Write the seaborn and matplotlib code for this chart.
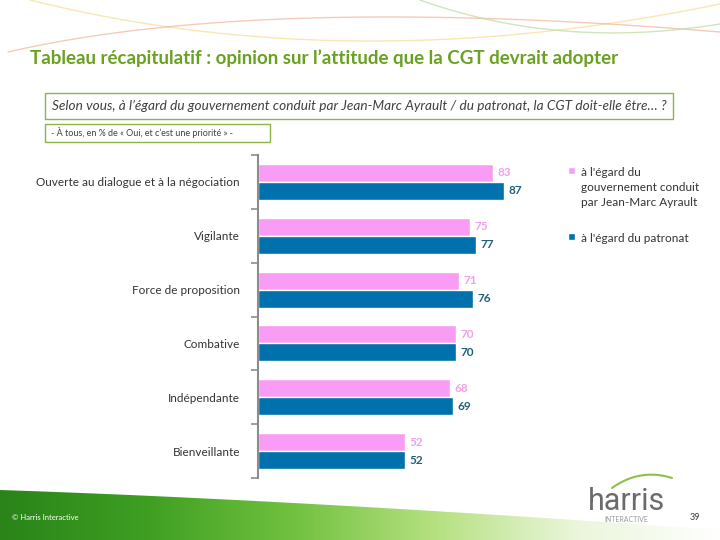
import numpy as np
import pandas as pd
import matplotlib
matplotlib.use("Agg")
import matplotlib.pyplot as plt
from matplotlib.patches import Rectangle, Polygon, Patch
import seaborn as sns

categories = [
    "Ouverte au dialogue et à la négociation",
    "Vigilante",
    "Force de proposition",
    "Combative",
    "Indépendante",
    "Bienveillante",
]
series_names = [
    "à l'égard du\ngouvernement conduit\npar Jean-Marc Ayrault",
    "à l'égard du patronat",
]
gouvernement = [83, 75, 71, 70, 68, 52]
patronat = [87, 77, 76, 70, 69, 52]

PINK = "#F99CF5"
BLUE = "#0071AC"
GREEN = "#6AA121"

df = pd.DataFrame({
    "categorie": categories * 2,
    "serie": [series_names[0]] * 6 + [series_names[1]] * 6,
    "valeur": gouvernement + patronat,
})

sns.set_theme(style="white")
plt.rcParams["font.family"] = ["Lato", "DejaVu Sans"]

fig = plt.figure(figsize=(7.2, 5.4), dpi=100)

# decoration layer in pixel coordinates
bg = fig.add_axes([0, 0, 1, 1], zorder=0)
bg.set_xlim(0, 720)
bg.set_ylim(540, 0)
bg.axis("off")


def quad(p0, p1, p2, n=80):
    t = np.linspace(0, 1, n)[:, None]
    return (1 - t) ** 2 * np.array(p0) + 2 * (1 - t) * t * np.array(p1) + t ** 2 * np.array(p2)


for p0, p1, p2, c in [((30, 0), (350, 80), (720, 4), "#F7DC94"),
                      ((8, 52), (260, -6), (720, 32), "#F2B49A"),
                      ((420, 0), (560, 50), (720, 24), "#BCDAA2")]:
    pts = quad(p0, p1, p2)
    bg.plot(pts[:, 0], pts[:, 1], color=c, lw=1, alpha=0.7)

# green swoosh at the bottom
top = quad((0, 490), (300, 500), (720, 530))
swoosh = Polygon(np.vstack([top, [[720, 540], [0, 540]]]), closed=True,
                 facecolor="none", edgecolor="none")
bg.add_patch(swoosh)
grad = np.linspace(0, 1, 256)[None, :]
cmap = matplotlib.colors.LinearSegmentedColormap.from_list(
    "sw", ["#2A8419", "#3E9E22", "#6FC03E", "#B4E07E", "#EAF6DA", "#FFFFFF"])
im = bg.imshow(grad, extent=(0, 720, 540, 488), cmap=cmap, aspect="auto", zorder=0)
im.set_clip_path(swoosh)
bg.set_xlim(0, 720)
bg.set_ylim(540, 0)

# title and boxes
bg.text(30, 58, "Tableau récapitulatif : opinion sur l’attitude que la CGT devrait adopter",
        color=GREEN, fontsize=13.5, fontweight="bold", va="center", ha="left")
bg.add_patch(Rectangle((45, 93), 628, 26, fill=False, edgecolor="#8DB34A", lw=1))
bg.text(52, 106, "Selon vous, à l’égard du gouvernement conduit par Jean-Marc Ayrault / du patronat, "
        "la CGT doit-elle être… ?", style="italic", color="#404040", fontsize=9.8,
        va="center", ha="left")
bg.add_patch(Rectangle((45, 124), 225, 18, fill=False, edgecolor="#8DB34A", lw=1))
bg.text(51, 133, "- À tous, en % de « Oui, et c’est une priorité » -", color="#404040",
        fontsize=6.5, va="center", ha="left")

# footer
bg.text(12, 518, "© Harris Interactive", color="white", fontsize=5.5, va="center")
bg.text(690, 518, "39", color="#404040", fontsize=6.5, va="center")
bg.text(626, 501, "harris", color="#6B6B6B", fontsize=22, va="center", ha="center",
        family=["Roboto", "DejaVu Sans"])
bg.text(626, 519, "INTERACTIVE", color="#9A9A9A", fontsize=5, va="center", ha="center")
arc = quad((612, 488), (640, 468), (672, 478))
bg.plot(arc[:, 0], arc[:, 1], color="#8CC04A", lw=1.5)

# chart
ax = fig.add_axes([258 / 720, 1 - 478 / 540, 283 / 720, 323 / 540], zorder=1)
ax.patch.set_alpha(0)
sns.barplot(data=df, y="categorie", x="valeur", hue="serie", orient="h",
            palette=[PINK, BLUE], width=0.67, saturation=1, ax=ax, legend=False)
ax.set_xlim(0, 100)
ax.set_ylim(5.5, -0.5)
ax.set_xlabel("")
ax.set_ylabel("")
ax.set_xticks([])
for s in ["top", "right", "bottom"]:
    ax.spines[s].set_visible(False)
ax.spines["left"].set_color("#8C8C8C")
ax.spines["left"].set_linewidth(1.5)
ax.tick_params(axis="y", which="major", length=0, pad=13, labelsize=8.5, labelcolor="#333333")
ax.set_yticks(np.arange(-0.5, 6, 1), minor=True)
ax.tick_params(axis="y", which="minor", length=5, width=1.2, color="#8C8C8C", left=True)

label_colors = ["#F0A0E8", "#1F5F7A"]
for cont, col in zip(ax.containers, label_colors):
    ax.bar_label(cont, padding=3, color=col, fontsize=8.5, fontweight="bold")

handles = [Patch(facecolor=PINK), Patch(facecolor=BLUE)]
leg = ax.legend(handles, series_names, frameon=False, loc="upper left",
                bbox_to_anchor=(557 / 720, 1 - 156 / 540), bbox_transform=fig.transFigure,
                handlelength=0.6, handleheight=0.6, handletextpad=0.5, labelspacing=2.1,
                fontsize=8.5, labelcolor="#333333")
for t in leg.get_texts():
    t.set_linespacing(1.45)
# put the square next to the first line of the multi-line entry
for column in leg._legend_handle_box.get_children():
    for row in column.get_children():
        row.align = "top"

fig.savefig("out.png", dpi=100)
